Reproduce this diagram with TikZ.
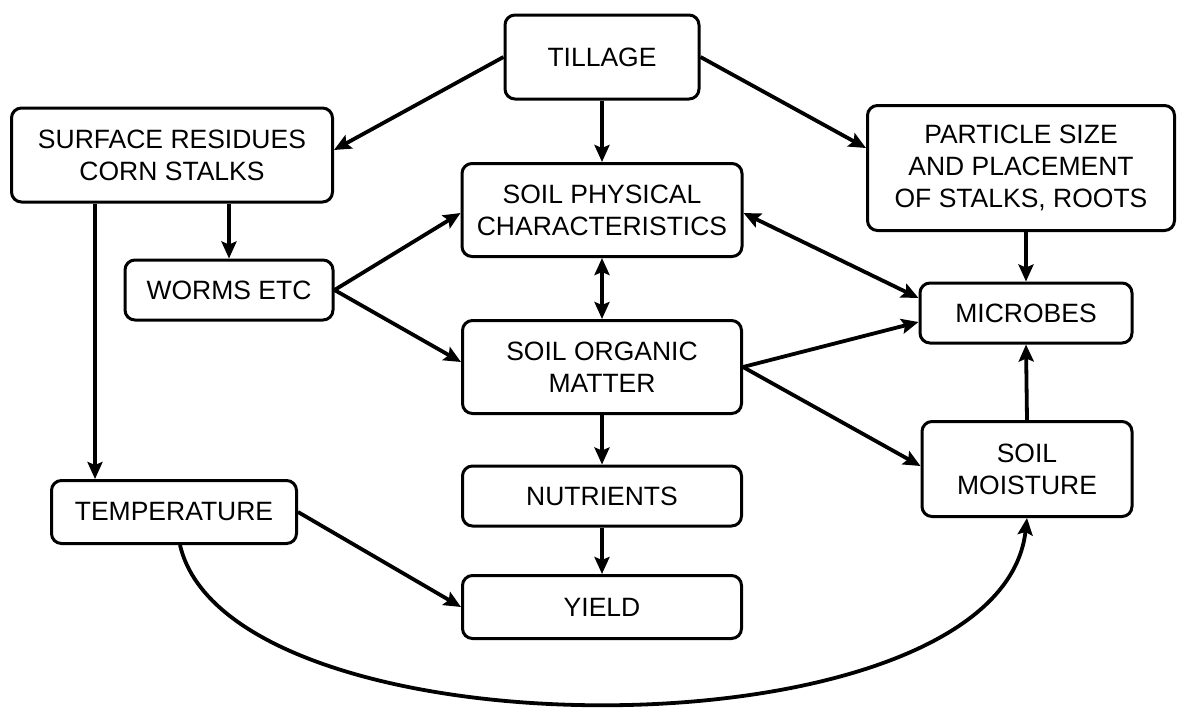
\documentclass[tikz,border=0pt]{standalone}
\usepackage{fontspec}
\setmainfont{Liberation Sans}
\usetikzlibrary{arrows.meta}
\usetikzlibrary{calc}

\begin{document}
\begin{tikzpicture}[x=1pt,y=-1pt,
  box/.style={draw, line width=3pt, rounded corners=10pt, align=center, inner sep=0pt, font=\fontsize{26.5}{32}\selectfont},
  link/.style={->, line width=3.8pt},
  >={Stealth[length=17pt,width=15pt,inset=3pt]}]
\useasboundingbox (0,0) rectangle (1183,713);
\node[box, minimum width=194pt, minimum height=84pt] (till) at (602,57) {TILLAGE};
\node[box, minimum width=321pt, minimum height=94pt] (surf) at (172,155) {SURFACE RESIDUES\\CORN STALKS};
\node[box, minimum width=307pt, minimum height=125pt] (part) at (1021,168) {PARTICLE SIZE\\AND PLACEMENT\\OF STALKS, ROOTS};
\node[box, minimum width=280pt, minimum height=93pt] (phys) at (602,210) {SOIL PHYSICAL\\CHARACTERISTICS};
\node[box, minimum width=208pt, minimum height=60pt] (wrm) at (229,290) {WORMS ETC};
\node[box, minimum width=212pt, minimum height=60pt] (mic) at (1026,313) {MICROBES};
\node[box, minimum width=279pt, minimum height=93pt] (som) at (602,367) {SOIL ORGANIC\\MATTER};
\node[box, minimum width=279pt, minimum height=60pt] (nut) at (602,496) {NUTRIENTS};
\node[box, minimum width=210pt, minimum height=95pt] (moist) at (1027,469) {SOIL\\MOISTURE};
\node[box, minimum width=245pt, minimum height=63pt] (tmp) at (174,512) {TEMPERATURE};
\node[box, minimum width=279pt, minimum height=63pt] (yld) at (602,607) {YIELD};
\coordinate (tmpin) at ([xshift=-79pt]tmp.north);
% from tillage
\draw[link] (till.west) -- ([yshift=5pt]surf.east);
\draw[link] (till.south) -- (phys.north);
\draw[link] (till.east) -- ([yshift=20pt]part.west);
% residues
\draw[link] (surf.south -| wrm.north) -- (wrm.north);
\draw[link] (tmpin |- surf.south) -- (tmpin);
\draw[link] (wrm.east) -- ([yshift=-3pt]phys.west);
\draw[link] (wrm.east) -- ([yshift=5pt]som.west);
% middle column
\draw[link, <->] (phys.south) -- (som.north);
\draw[link] (som.south) -- (nut.north);
\draw[link] (nut.south) -- (yld.north);
% right side
\draw[link, <->] ([yshift=-3pt]phys.east) -- ([yshift=15pt]mic.west);
\draw[link] (part.south -| mic.north) -- (mic.north);
\draw[link] (som.east) -- ([yshift=-9pt]mic.west);
\draw[link] (som.east) -- ([yshift=3pt]moist.west);
\draw[link] (moist.north) -- (mic.south);
% temperature
\draw[link] (tmp.east) -- (yld.west);
\draw[link] ([xshift=6pt]tmp.south) .. controls +(50,216) and +(-27,243) .. (moist.south);
\end{tikzpicture}
\end{document}
